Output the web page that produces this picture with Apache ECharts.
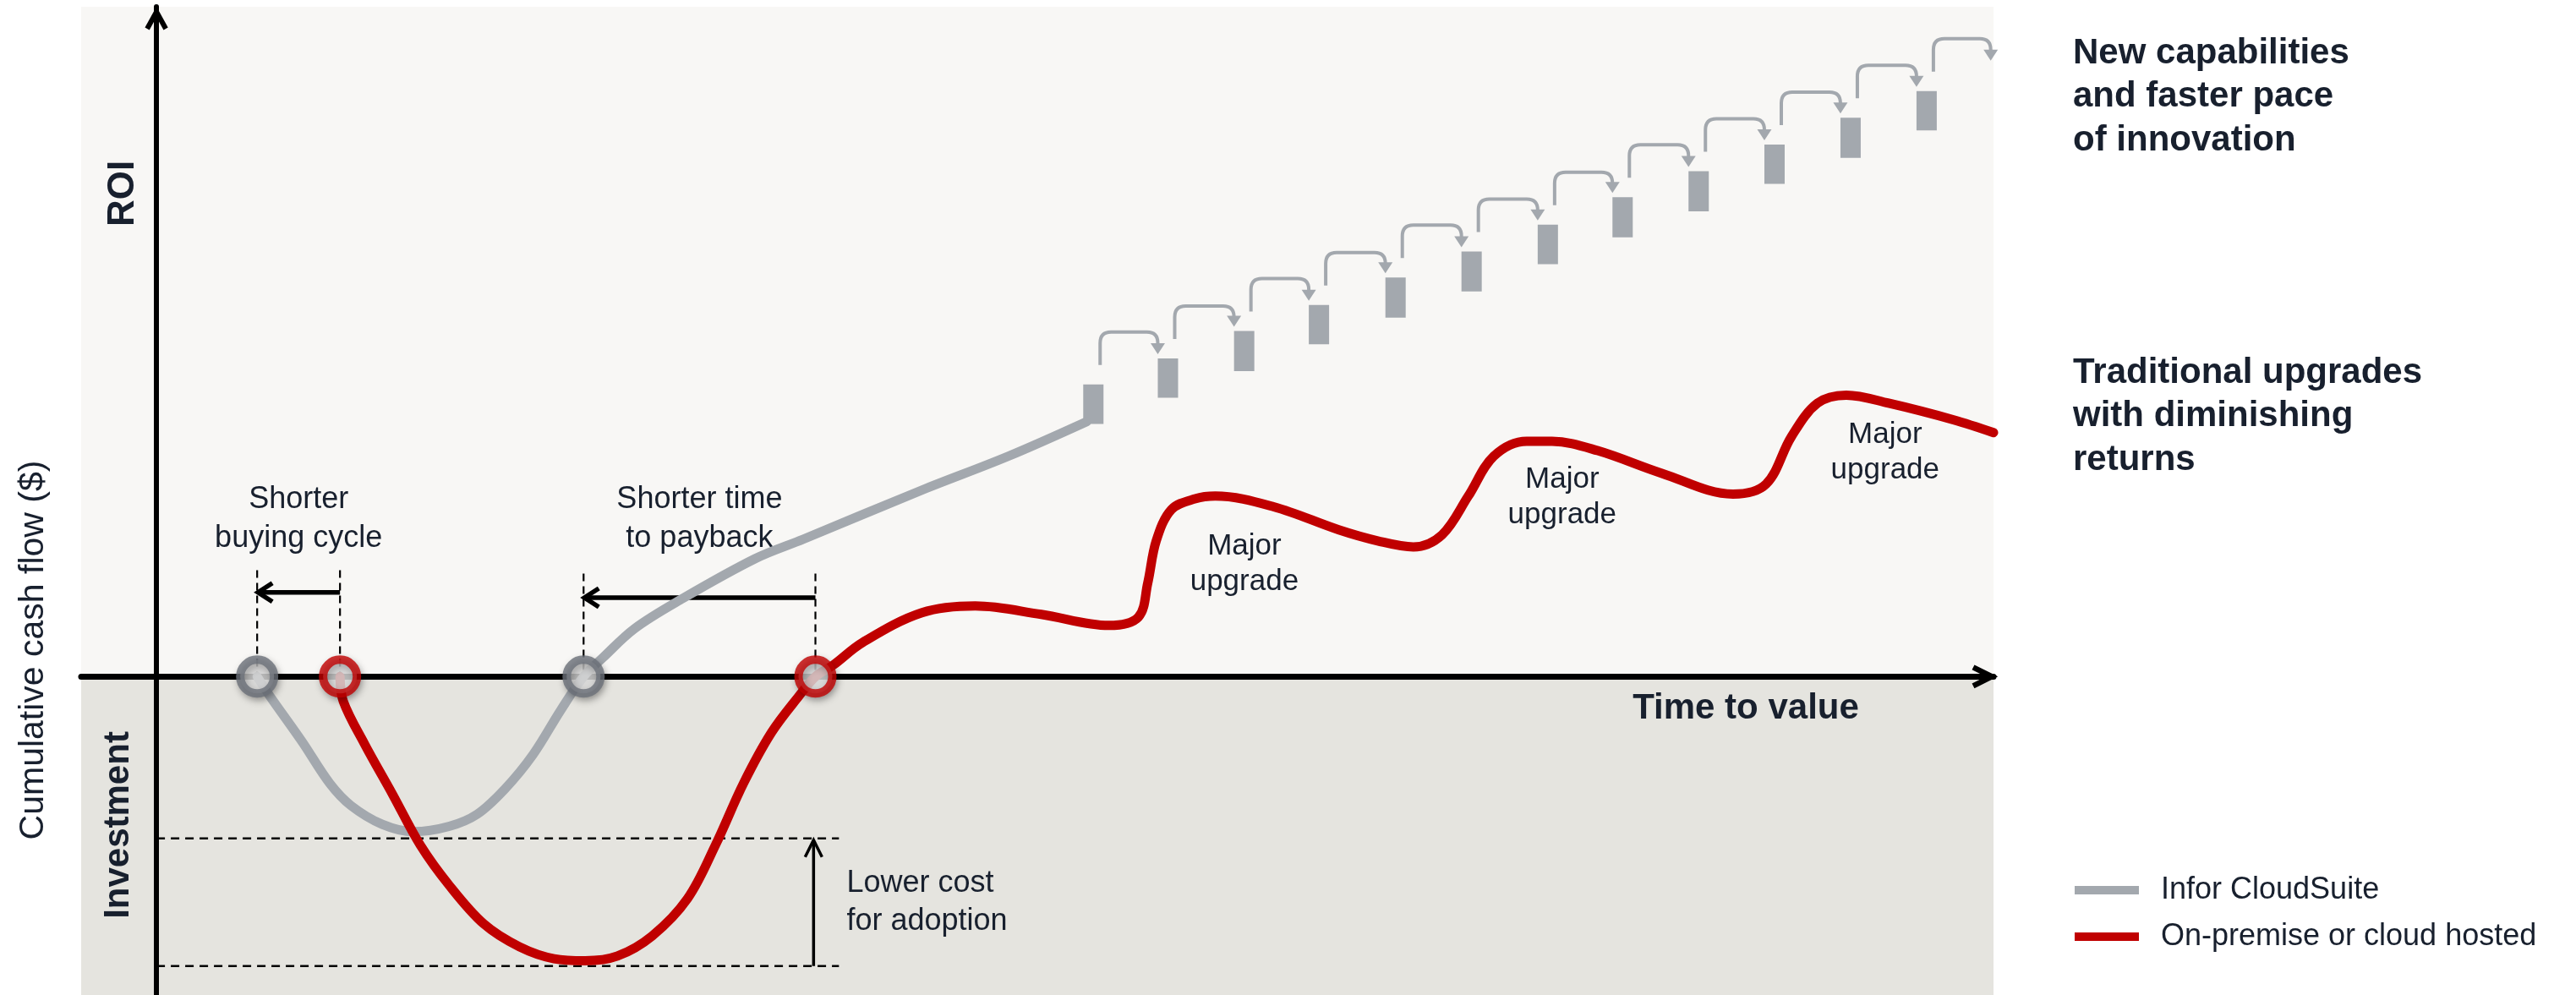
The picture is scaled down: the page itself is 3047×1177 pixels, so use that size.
<!DOCTYPE html>
<html>
<head>
<meta charset="utf-8">
<script src="https://cdn.jsdelivr.net/npm/echarts@6/dist/echarts.min.js"></script>
<style>
html,body{margin:0;padding:0;background:#ffffff;}
#chart{width:3047px;height:1177px;}
</style>
</head>
<body>
<div id="chart"></div>
<script>
// ---------- data (time-to-value units vs cumulative cash flow units) ----------
const timeRange = [-4.1, 100];
const cashRange = [-47.63, 100.2];

const cloudSuiteCurve = [
  [5.48, 0], [6.17, -2.9], [7.92, -9.7], [9.44, -16.0], [10.59, -19.3], [12.29, -22.1],
  [14.0, -23.2], [15.93, -22.4], [17.45, -20.6], [18.97, -16.8], [20.49, -11.7], [22.01, -5.0],
  [23.25, 0], [24.31, 2.85], [26.01, 7.15], [28.5, 11.45], [32.6, 17.65], [35.22, 20.56],
  [41.67, 27.9], [46.36, 32.95], [50.64, 38.14]
];

const onPremiseCurve = [
  [9.99, 0], [10.17, -3.7], [11.33, -10.1], [12.85, -17.6], [14.36, -25.2], [15.93, -31.2],
  [17.82, -37.0], [19.75, -40.4], [21.64, -42.2], [23.34, -42.5], [25.09, -41.8], [26.98, -38.8],
  [28.91, -33.2], [30.43, -25.2], [31.95, -16.0], [33.47, -8.4], [34.99, -2.85], [35.87, 0],
  [36.83, 1.7], [38.44, 5.1], [41.67, 9.55], [44.57, 10.56], [48.16, 9.3], [51.84, 7.65],
  [53.45, 8.9], [53.96, 14.0], [54.42, 20.3], [55.25, 25.0], [56.54, 26.6], [57.64, 27.0],
  [60.82, 25.4], [64.36, 21.95], [66.48, 20.3], [68.42, 19.4], [69.98, 21.2], [71.41, 27.0],
  [72.79, 32.95], [74.59, 35.2], [75.97, 35.2], [78.45, 33.8], [81.95, 30.4], [85.82, 27.3],
  [87.62, 28.8], [89.0, 35.9], [90.42, 40.9], [91.99, 42.1], [94.29, 40.9], [97.84, 38.4], [100, 36.5]
];

// continuous releases (CloudSuite): time, low and high of each step
const releaseTime = [51.0, 55.06, 59.21, 63.28, 67.45, 71.59, 75.74, 79.81, 83.95, 88.08, 92.22, 96.36, 100.4];
const releaseHigh = [43.7, 47.6, 51.7, 55.6, 59.7, 63.6, 67.6, 71.7, 75.6, 79.6, 83.6, 87.6, 91.5];
const releaseLow  = [37.8, 41.7, 45.7, 49.7, 53.7, 57.6, 61.7, 65.7, 69.6, 73.7, 77.6, 81.7, 85.6];

// milestones: [CloudSuite, On-premise]
const buyingStart = [5.48, 9.99];
const breakEven   = [23.25, 35.87];
const costFloor   = [-24.2, -43.3];   // deepest investment: CloudSuite, On-premise

const seriesNames = ['Infor CloudSuite', 'On-premise or cloud hosted'];
const upgradeLabel = 'Major\nupgrade';

// ---------- styles ----------
const FONT = '"Liberation Sans", Arial, Helvetica, sans-serif';
const TEXT = '#18202e';
const GRAY = '#a3a8ae';
const GRAY_DARK = '#6b7179';
const RED = '#c00000';
const BG_TOP = '#f8f7f5';
const BG_LOW = '#e5e4df';

const chart = echarts.init(document.getElementById('chart'), null, {renderer: 'canvas'});

function chevron(tip, dir, depth, half, width) {
  let pts;
  if (dir === 'left') pts = [[tip[0] + depth, tip[1] - half], tip, [tip[0] + depth, tip[1] + half]];
  else if (dir === 'right') pts = [[tip[0] - depth, tip[1] - half], tip, [tip[0] - depth, tip[1] + half]];
  else pts = [[tip[0] - half, tip[1] + depth], tip, [tip[0] + half, tip[1] + depth]];
  return {type: 'polyline', shape: {points: pts},
    style: {stroke: '#000', lineWidth: width, fill: null, lineJoin: 'miter', lineCap: 'butt'}};
}

function txt(p, text, size, opts) {
  return {type: 'text', x: p[0], y: p[1],
    style: Object.assign({text: text, font: size + 'px ' + FONT, fill: TEXT,
      align: 'center', verticalAlign: 'middle', lineHeight: Math.round(size * 1.28)}, opts || {})};
}

function renderBackground(params, api) {
  const a = api.coord([timeRange[0], 0]);
  const b = api.coord([timeRange[1], cashRange[0]]);
  return {type: 'rect', shape: {x: a[0], y: a[1], width: b[0] - a[0], height: b[1] - a[1]},
    style: {fill: BG_LOW}};
}

function renderNotes(params, api) {
  const P = (t, v) => api.coord([t, v]);
  const ch = [];
  const dashV = {stroke: '#000', lineWidth: 2.2, lineDash: [9, 6], fill: null};
  const dashH = {stroke: '#000', lineWidth: 2.5, lineDash: [10, 7], fill: null};
  // axis arrowheads
  const xEnd = P(timeRange[1], 0);
  ch.push(chevron([xEnd[0] - 2, xEnd[1]], 'right', 22, 11, 6.5));
  const yEnd = P(0, cashRange[1]);
  ch.push(chevron([yEnd[0], yEnd[1] + 6], 'up', 20, 11, 6));
  // buying cycle & payback markers
  const groups = [[buyingStart, 15.9, 12.6], [breakEven, 15.4, 11.8]];
  groups.forEach(function (g) {
    const ts = g[0];
    ts.forEach(function (t) {
      const a = P(t, g[1]), b = P(t, 0);
      ch.push({type: 'line', shape: {x1: a[0], y1: a[1], x2: b[0], y2: b[1]}, style: dashV});
    });
    const l = P(ts[0], g[2]), r = P(ts[1], g[2]);
    ch.push({type: 'line', shape: {x1: l[0] + 3, y1: l[1], x2: r[0], y2: r[1]},
      style: {stroke: '#000', lineWidth: 5.5}});
    ch.push(chevron([l[0] + 1, l[1]], 'left', 17, 11, 5.5));
    const mid = P((ts[0] + ts[1]) / 2, 23.56);
    ch.push(txt(mid, ts === buyingStart ? 'Shorter\nbuying cycle' : 'Shorter time\nto payback', 36, {lineHeight: 46}));
  });
  // cost floors
  costFloor.forEach(function (v) {
    const a = P(0, v), b = P(37.15, v);
    ch.push({type: 'line', shape: {x1: a[0], y1: a[1], x2: b[0], y2: b[1]}, style: dashH});
  });
  const up = P(35.77, costFloor[0]), dn = P(35.77, costFloor[1]);
  ch.push({type: 'line', shape: {x1: dn[0], y1: dn[1], x2: up[0], y2: up[1] + 3},
    style: {stroke: '#000', lineWidth: 3.5}});
  ch.push(chevron([up[0], up[1] + 2], 'up', 20, 10, 3.5));
  ch.push(txt(P(37.57, -33.8), 'Lower cost\nfor adoption', 36, {align: 'left', lineHeight: 45}));
  // upgrade labels
  [[59.22, 16.8], [76.52, 26.75], [94.1, 33.46]].forEach(function (p) {
    ch.push(txt(P(p[0], p[1]), upgradeLabel, 35, {lineHeight: 42}));
  });
  return {type: 'group', children: ch};
}

function renderReleases(params, api) {
  const i = params.dataIndex;
  const t = api.value(0), lo = api.value(1), hi = api.value(2);
  const top = api.coord([t, hi]), bot = api.coord([t, lo]);
  const cs = params.coordSys;
  const bw = 24;
  const ch = [];
  if (top[0] + bw / 2 <= cs.x + cs.width) {
    ch.push({type: 'rect', shape: {x: top[0] - bw / 2, y: top[1], width: bw, height: bot[1] - top[1]},
      style: {fill: GRAY}});
  }
  if (i + 1 < releaseTime.length) {
    const nTop = api.coord([releaseTime[i + 1], releaseHigh[i + 1]]);
    const x0 = top[0] + 8, y0 = top[1] - 23, yT = top[1] - 62;
    const x1 = nTop[0] - 12, tip = nTop[1] - 5;
    const r = 13;
    const d = 'M' + x0 + ' ' + y0 + ' L' + x0 + ' ' + (yT + r) +
      ' Q' + x0 + ' ' + yT + ' ' + (x0 + r) + ' ' + yT +
      ' L' + (x1 - r) + ' ' + yT +
      ' Q' + x1 + ' ' + yT + ' ' + x1 + ' ' + (yT + r) +
      ' L' + x1 + ' ' + (tip - 11);
    ch.push({type: 'path', shape: {pathData: d}, style: {fill: null, stroke: GRAY, lineWidth: 4}});
    ch.push({type: 'polygon', shape: {points: [[x1 - 8.5, tip - 13], [x1 + 8.5, tip - 13], [x1, tip]]},
      style: {fill: GRAY}});
  }
  return {type: 'group', children: ch};
}

const milestoneData = [
  {value: [buyingStart[0], 0], itemStyle: {borderColor: GRAY_DARK}},
  {value: [buyingStart[1], 0], itemStyle: {borderColor: RED}},
  {value: [breakEven[0], 0], itemStyle: {borderColor: GRAY_DARK}},
  {value: [breakEven[1], 0], itemStyle: {borderColor: RED}}
];

const option = {
  animation: false,
  backgroundColor: '#ffffff',
  grid: {left: 96, right: 689, top: 8, bottom: 0, show: true, backgroundColor: BG_TOP, borderWidth: 0},
  xAxis: {
    type: 'value', min: timeRange[0], max: timeRange[1], z: 3,
    axisLine: {onZero: true, lineStyle: {color: '#000', width: 7}},
    axisTick: {show: false}, axisLabel: {show: false}, splitLine: {show: false}
  },
  yAxis: {
    type: 'value', min: cashRange[0], max: cashRange[1], z: 3,
    axisLine: {onZero: true, lineStyle: {color: '#000', width: 6}},
    axisTick: {show: false}, axisLabel: {show: false}, splitLine: {show: false}
  },
  legend: {
    data: seriesNames, orient: 'vertical', left: 2449, top: 1026,
    icon: 'rect', itemWidth: 76, itemHeight: 10, itemGap: 11, selectedMode: false,
    textStyle: {fontFamily: FONT, fontSize: 36, color: TEXT, lineHeight: 44, padding: [0, 0, 0, 21]}
  },
  graphic: [
    {type: 'text', x: 40, y: 769, rotation: Math.PI / 2, z: 100,
      style: {text: 'Cumulative cash flow ($)', font: '41px ' + FONT, fill: TEXT, align: 'center', verticalAlign: 'middle'}},
    {type: 'text', x: 146, y: 229, rotation: Math.PI / 2, z: 100,
      style: {text: 'ROI', font: 'bold 44px ' + FONT, fill: TEXT, align: 'center', verticalAlign: 'middle'}},
    {type: 'text', x: 140, y: 976, rotation: Math.PI / 2, z: 100,
      style: {text: 'Investment', font: 'bold 42px ' + FONT, fill: TEXT, align: 'center', verticalAlign: 'middle'}},
    {type: 'text', x: 2065, y: 838, z: 100,
      style: {text: 'Time to value', font: 'bold 42px ' + FONT, fill: TEXT, align: 'center', verticalAlign: 'middle'}},
    {type: 'text', x: 2452, y: 114.5, z: 100,
      style: {text: 'New capabilities\nand faster pace\nof innovation', font: 'bold 42px ' + FONT, fill: TEXT,
        align: 'left', verticalAlign: 'middle', lineHeight: 51.5}},
    {type: 'text', x: 2452, y: 492.5, z: 100,
      style: {text: 'Traditional upgrades\nwith diminishing\nreturns', font: 'bold 42px ' + FONT, fill: TEXT,
        align: 'left', verticalAlign: 'middle', lineHeight: 51.5}}
  ],
  series: [
    {type: 'custom', name: 'investment zone', z: 1, silent: true, data: [[0, 0]], renderItem: renderBackground},
    {type: 'custom', name: 'notes', z: 4, silent: true, data: [[0, 0]], renderItem: renderNotes},
    {type: 'custom', name: 'releases', z: 5, silent: true,
      data: releaseTime.map(function (t, i) { return [t, releaseLow[i], releaseHigh[i]]; }),
      renderItem: renderReleases},
    {type: 'line', name: seriesNames[0], z: 6, data: cloudSuiteCurve, smooth: 0.35, symbol: 'none',
      lineStyle: {color: GRAY, width: 11, cap: 'round', join: 'round'}, itemStyle: {color: GRAY}},
    {type: 'line', name: seriesNames[1], z: 7, data: onPremiseCurve, smooth: 0.35, symbol: 'none',
      lineStyle: {color: RED, width: 11, cap: 'round', join: 'round'}, itemStyle: {color: RED}},
    {type: 'scatter', name: 'milestones', z: 9, silent: true, data: milestoneData, symbol: 'circle', symbolSize: 40,
      itemStyle: {color: '#e5e5e5', borderWidth: 10, shadowBlur: 8, shadowOffsetX: 2, shadowOffsetY: 4,
        shadowColor: 'rgba(0,0,0,0.35)'}}
  ]
};

chart.setOption(option);
</script>
</body>
</html>
